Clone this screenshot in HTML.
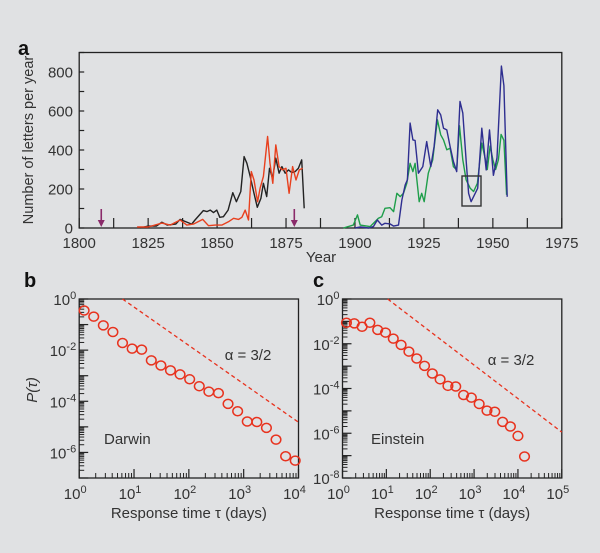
<!DOCTYPE html>
<html><head><meta charset="utf-8"><style>
body{margin:0;background:#e0e1e3;}
svg{display:block;font-family:"Liberation Sans",sans-serif;}
</style></head><body>
<svg id="fig" width="600" height="553" viewBox="0 0 600 553" xmlns="http://www.w3.org/2000/svg">
<rect width="600" height="553" fill="#e0e1e3"/>
</svg>
<script>
// ---- Panel a data ----
const darwinBlackYears=[1822,1825,1828,1830,1832,1835,1836.6,1840.8,1842,1845,1846.3,1847.5,1848.7,1849.9,1851,1852.3,1854,1855.7,1857,1858.6,1859.8,1860.8,1862,1863.4,1864.6,1865.9,1866.8,1868,1869,1870.1,1871.3,1872.5,1873.5,1874.7,1875.9,1877.1,1878.3,1879.5,1880.7,1881.6];
const darwinBlackVals=[0,10,10,30,15,20,44,20,41,89,84,92,79,92,55,58,92,181,135,187,366,332,264,178,106,152,229,161,306,255,358,281,315,281,298,284,289,306,349,101];
const darwinRedYears=[1821,1825,1830,1833,1835,1836.6,1839,1841.4,1844.8,1846.9,1849.3,1851.7,1854.1,1856,1857.8,1859,1860.2,1861.4,1862.4,1863.4,1864.7,1865.6,1866.8,1868.3,1869.2,1870.2,1871.3,1872.5,1873.7,1875,1876.1,1877.4,1878.6,1879.8,1881];
const darwinRedVals=[5,5,25,15,30,41,15,20,44,12,15,15,32,50,44,55,92,41,289,246,135,204,264,469,332,229,426,315,298,306,178,315,246,298,306];
const einsteinGreenYears=[1895.8,1899.4,1900.9,1901.9,1905.5,1907.3,1908.5,1909.7,1910.9,1912.7,1914,1915.2,1916.4,1917.6,1918.8,1920,1921,1921.8,1923.3,1924.2,1925.1,1926.6,1928.2,1929.9,1931.1,1932.1,1933.3,1934.5,1935.7,1936.9,1937.9,1939.1,1940.3,1941.8,1943,1944.4,1946,1947,1948,1949,1950,1951,1952,1953,1954,1955];
const einsteinGreenVals=[0,15,67,15,7,33,50,58,101,104,84,178,161,178,229,332,289,332,135,178,135,281,349,555,478,452,401,409,315,298,524,349,247,204,187,229,435,370,300,420,350,300,350,480,450,170];
const einsteinBlueYears=[1900,1902,1905,1906.7,1908.1,1909.7,1910.9,1912.7,1914,1915.8,1917,1918.2,1919,1920,1921,1921.8,1923,1924.6,1926,1927.5,1928.7,1930,1931.1,1932.1,1933.3,1934.5,1935.7,1936.9,1938.1,1939.1,1940.3,1941.2,1942.1,1943.6,1944.5,1946,1947.6,1948.8,1950.2,1951.5,1953.1,1954,1955.2];
const einsteinBlueVals=[0,5,0,7,41,15,24,21,10,15,144,221,247,538,452,449,281,315,443,315,418,606,580,512,503,418,341,289,649,589,349,178,135,178,204,512,298,503,270,360,830,730,160];
const yearTicks=[1800,1825,1850,1875,1900,1925,1950,1975];
const countTicks=[0,200,400,600,800];
const arrowYears=[1808,1878];
// ---- Panel b/c data (log10 values) ----
const darwinLogTau=[0.09,0.265,0.44,0.615,0.79,0.965,1.14,1.315,1.49,1.665,1.84,2.015,2.19,2.365,2.54,2.715,2.89,3.065,3.24,3.415,3.59,3.765,3.94];
const darwinLogP=[-0.45,-0.69,-1.03,-1.29,-1.72,-1.94,-1.98,-2.40,-2.60,-2.79,-2.95,-3.14,-3.41,-3.62,-3.68,-4.10,-4.39,-4.79,-4.81,-5.04,-5.50,-6.15,-6.32];
const einsteinLogTau=[0.09,0.268,0.446,0.624,0.802,0.98,1.158,1.336,1.514,1.692,1.87,2.048,2.226,2.404,2.582,2.76,2.938,3.116,3.294,3.472,3.65,3.828,4.0,4.15];
const einsteinLogP=[-1.06,-1.09,-1.24,-1.06,-1.38,-1.50,-1.77,-2.05,-2.35,-2.66,-2.99,-3.33,-3.59,-3.88,-3.91,-4.29,-4.41,-4.69,-4.99,-5.04,-5.49,-5.70,-6.12,-7.04];
const darwinFitLogTau=[0.79,4];
const darwinFitLogP=[0,-4.82];
const einsteinFitLogTau=[1.03,5];
const einsteinFitLogP=[0,-5.95];

const NS="http://www.w3.org/2000/svg";
const svg=document.getElementById('fig');
function mk(tag,attrs,parent){const e=document.createElementNS(NS,tag);for(const k in attrs)e.setAttribute(k,attrs[k]);(parent||svg).appendChild(e);return e;}
function txt(x,y,s,attrs){const e=mk('text',Object.assign({x:x,y:y},attrs||{}));e.textContent=s;return e;}

// ---------- Panel a ----------
const A={x0:79.2,x1:561.8,y0:228,y1:52.5};
const ax=y=>A.x0+(y-1800)/(1975-1800)*(A.x1-A.x0);
const ay=v=>A.y0-(v/900)*(A.y0-A.y1);
let t;
t=txt(18,55,'a',{'font-size':20,'font-weight':'bold',fill:'#111'});


const frameA=mk('rect',{x:A.x0,y:A.y1,width:A.x1-A.x0,height:A.y0-A.y1,fill:'none',stroke:'#222','stroke-width':1.3});


for(let yr=1800;yr<=1975;yr+=12.5){const l=mk('line',{x1:ax(yr),x2:ax(yr),y1:A.y0,y2:A.y0-10,stroke:'#222','stroke-width':1.2});

}
yearTicks.forEach(yr=>{const e=txt(ax(yr),248,String(yr),{'font-size':15,'text-anchor':'middle',fill:'#333'});

});
for(let v=0;v<=900;v+=100){const l=mk('line',{x1:A.x0,x2:A.x0+5,y1:ay(v),y2:ay(v),stroke:'#222','stroke-width':1.2});

}
countTicks.forEach(v=>{const e=txt(73,ay(v)+5.5,String(v),{'font-size':15,'text-anchor':'end',fill:'#333'});

});
t=txt(321,262,'Year',{'font-size':15,'text-anchor':'middle',fill:'#333'});


t=txt(0,0,'Number of letters per year',{'font-size':14.5,'text-anchor':'middle',fill:'#333',transform:'translate(33,140) rotate(-90)'});


function series(xs,vs,color,name){const d=xs.map((x,i)=>(i?'L':'M')+ax(x).toFixed(1)+','+ay(vs[i]).toFixed(1)).join('');
const p=mk('path',{d:d,fill:'none',stroke:color,'stroke-width':1.4,'stroke-linejoin':'round'});

}
series(darwinBlackYears,darwinBlackVals,'#222','darwin-sent-line');
series(darwinRedYears,darwinRedVals,'#e8401e','darwin-received-line');
series(einsteinGreenYears,einsteinGreenVals,'#1e9e4a','einstein-received-line');
series(einsteinBlueYears,einsteinBlueVals,'#2e2e90','einstein-sent-line');
arrowYears.forEach(yr=>{const g=mk('g',{});


mk('line',{x1:ax(yr),x2:ax(yr),y1:209,y2:224,stroke:'#8a2a6a','stroke-width':1.6},g);
mk('path',{d:`M${ax(yr)-3.5},220L${ax(yr)+3.5},220L${ax(yr)},227Z`,fill:'#8a2a6a'},g);});
const box=mk('rect',{x:462,y:176,width:19,height:30,fill:'none',stroke:'#333','stroke-width':1.4});



// ---------- log panels ----------
function logPanel(o){
 const px=l=>o.x0+(l-o.xmin)/(o.xmax-o.xmin)*(o.x1-o.x0);
 const py=l=>o.y0-(l-o.ymin)/(o.ymax-o.ymin)*(o.y0-o.y1);
 let e=txt(o.lx,287,o.letter,{'font-size':20,'font-weight':'bold',fill:'#111'});
 
 
 const fr=mk('rect',{x:o.x0,y:o.y1,width:o.x1-o.x0,height:o.y0-o.y1,fill:'none',stroke:'#222','stroke-width':1.3});
 
 
 for(let d=o.xmin;d<=o.xmax;d++){
  const l=mk('line',{x1:px(d),x2:px(d),y1:o.y0,y2:o.y0-9,stroke:'#222','stroke-width':1.2});
  
  
  const g=mk('text',{x:px(d)-4,y:499,'font-size':15,'text-anchor':'middle',fill:'#333'});
  g.innerHTML='10<tspan dy="-6" font-size="11">'+d+'</tspan>';
  
  
  if(d<o.xmax)for(let m=2;m<10;m++){const lm=mk('line',{x1:px(d+Math.log10(m)),x2:px(d+Math.log10(m)),y1:o.y0,y2:o.y0-5,stroke:'#222','stroke-width':1});
   
   }
 }
 for(let d=o.ymin;d<=o.ymax;d++){
  const l=mk('line',{x1:o.x0,x2:o.x0+9,y1:py(d),y2:py(d),stroke:'#222','stroke-width':1.2});
  
  
  if(d<o.ymax)for(let m=2;m<10;m++){const lm=mk('line',{x1:o.x0,x2:o.x0+5,y1:py(d+Math.log10(m)),y2:py(d+Math.log10(m)),stroke:'#222','stroke-width':1});
   
   }
  if(d%2===0){const g=mk('text',{x:o.x0-3,y:py(d)+6,'font-size':15,'text-anchor':'end',fill:'#333'});
   g.innerHTML='10<tspan dy="-6" font-size="11">'+d+'</tspan>';
   
   }
 }
 e=txt((o.x0+o.x1)/2,518,'Response time τ (days)',{'font-size':15,'text-anchor':'middle',fill:'#333'});
 
 
 const fl=mk('line',{x1:px(o.fx[0]),y1:py(o.fy[0]),x2:px(o.fx[1]),y2:py(o.fy[1]),stroke:'#e8321e','stroke-width':1.3,'stroke-dasharray':'4,3'});
 
 
 o.lt.forEach((l,i)=>{const c=mk('ellipse',{cx:px(l),cy:py(o.lp[i]),rx:4.8,ry:4.5,fill:'none',stroke:'#e8321e','stroke-width':1.5});
  
  });
 e=txt(o.nx,444,o.name,{'font-size':15,fill:'#333'});
 
 
 e=txt(o.ax,o.ay,'α = 3/2',{'font-size':15,'text-anchor':'middle',fill:'#333'});
 
 
}
logPanel({letter:'b',lx:24,x0:79.2,x1:298.5,y0:478,y1:299,xmin:0,xmax:4,ymin:-7,ymax:0,lt:darwinLogTau,lp:darwinLogP,fx:darwinFitLogTau,fy:darwinFitLogP,name:'Darwin',nx:104,ax:248,ay:360});
logPanel({letter:'c',lx:313,x0:342.5,x1:561.8,y0:478,y1:299,xmin:0,xmax:5,ymin:-8,ymax:0,lt:einsteinLogTau,lp:einsteinLogP,fx:einsteinFitLogTau,fy:einsteinFitLogP,name:'Einstein',nx:371,ax:511,ay:365});
t=txt(0,0,'P(τ)',{'font-size':15,'text-anchor':'middle','font-style':'italic',fill:'#333',transform:'translate(37,390) rotate(-90)'});


</script>
</body></html>
